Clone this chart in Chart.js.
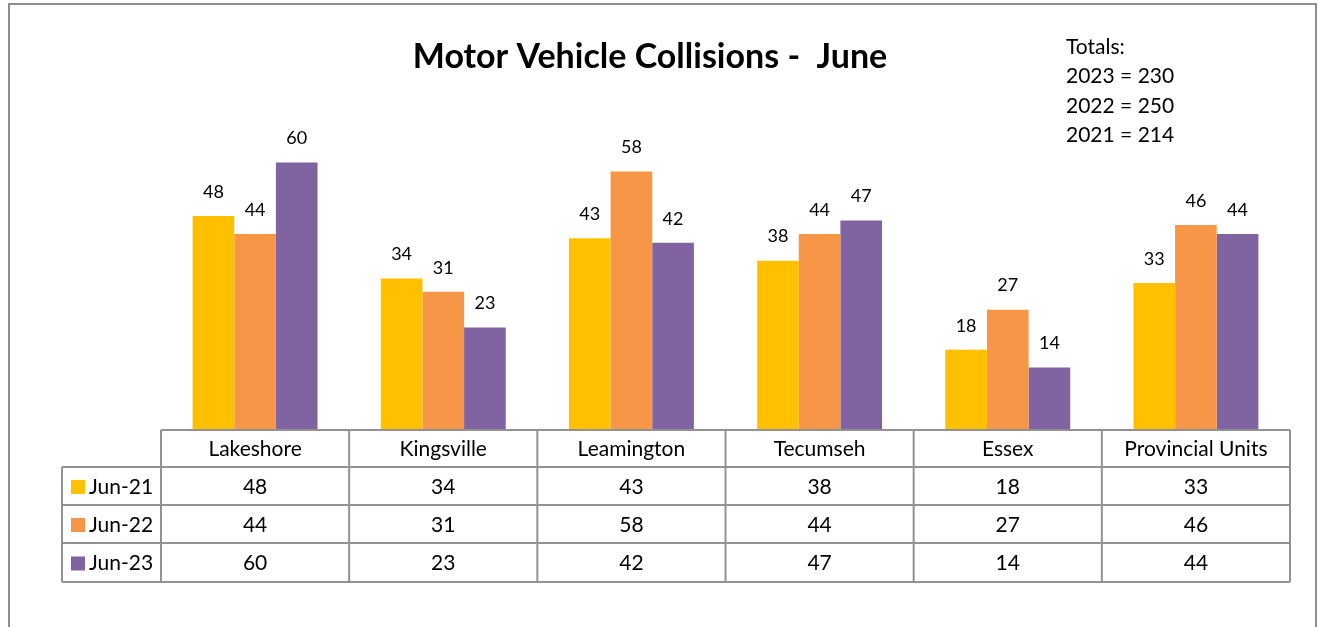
<!DOCTYPE html>
<html>
<head>
<meta charset="utf-8">
<script src="https://cdn.jsdelivr.net/npm/chart.js@4.4.0/dist/chart.umd.min.js"></script>
<style>
  html, body { margin: 0; padding: 0; background: #fff; }
  #wrap { width: 1325px; height: 627px; }
</style>
</head>
<body>
<div id="wrap"><canvas id="c" width="1325" height="627"></canvas></div>
<script>
const categories = ['Lakeshore', 'Kingsville', 'Leamington', 'Tecumseh', 'Essex', 'Provincial Units']
const seriesNames = ['Jun-21', 'Jun-22', 'Jun-23']
const jun21 = [48, 34, 43, 38, 18, 33]
const jun22 = [44, 31, 58, 44, 27, 46]
const jun23 = [60, 23, 42, 47, 14, 44]
const totalsLines = ['Totals:', '2023 = 230', '2022 = 250', '2021 = 214']
const titleText = 'Motor Vehicle Collisions -  June'

const colors = ['#FFC000', '#F79646', '#8064A2']
const FONT = 'Lato, "Open Sans", sans-serif'
const GRID = '#929292'

// frame, title, totals box
const decorPlugin = {
    id: 'decor',
    beforeDraw(chart) {
        const ctx = chart.ctx
        ctx.save()
        ctx.fillStyle = '#fff'
        ctx.fillRect(0, 0, chart.width, chart.height)
        ctx.strokeStyle = '#8f8f8f'
        ctx.lineWidth = 2
        ctx.strokeRect(9, 4, 1307, 640)

        ctx.fillStyle = '#000'
        ctx.font = 'bold 34px ' + FONT
        ctx.textAlign = 'center'
        ctx.textBaseline = 'middle'
        ctx.fillText(titleText, 650, 57)

        ctx.font = '21px ' + FONT
        ctx.textAlign = 'left'
        totalsLines.forEach((t, i) => ctx.fillText(t, 1066, 47 + i * 29.5))
        ctx.restore()
    }
}

// value labels above bars
const labelPlugin = {
    id: 'barLabels',
    afterDatasetsDraw(chart) {
        const ctx = chart.ctx
        ctx.save()
        ctx.fillStyle = '#000'
        ctx.font = '18px ' + FONT
        ctx.textAlign = 'center'
        ctx.textBaseline = 'middle'
        chart.data.datasets.forEach((ds, di) => {
            chart.getDatasetMeta(di).data.forEach((bar, i) => {
                ctx.fillText(ds.data[i], bar.x, bar.y - 24)
            })
        })
        ctx.restore()
    }
}

// data table under the plot
const tablePlugin = {
    id: 'dataTable',
    afterDraw(chart) {
        const ctx = chart.ctx
        const area = chart.chartArea
        const xs = chart.scales.x
        const n = categories.length
        const colW = (area.right - area.left) / n
        const legendLeft = 62
        const rows = [area.bottom, 467, 505, 543, 582]

        ctx.save()
        ctx.strokeStyle = GRID
        ctx.lineWidth = 2
        // header row (categories only)
        ctx.beginPath()
        ctx.moveTo(area.left, rows[0]); ctx.lineTo(area.right, rows[0])
        for (let r = 1; r < rows.length; r++) {
            ctx.moveTo(legendLeft, rows[r]); ctx.lineTo(area.right, rows[r])
        }
        for (let i = 0; i <= n; i++) {
            const x = area.left + i * colW
            ctx.moveTo(x, rows[0]); ctx.lineTo(x, rows[4])
        }
        ctx.moveTo(legendLeft, rows[1]); ctx.lineTo(legendLeft, rows[4])
        ctx.stroke()

        ctx.fillStyle = '#000'
        ctx.font = '21px ' + FONT
        ctx.textAlign = 'center'
        ctx.textBaseline = 'middle'
        categories.forEach((c, i) => {
            ctx.fillText(c, xs.getPixelForValue(i), (rows[0] + rows[1]) / 2 + 1)
        })
        chart.data.datasets.forEach((ds, di) => {
            const yMid = (rows[di + 1] + rows[di + 2]) / 2 + 1
            ds.data.forEach((v, i) => {
                ctx.textAlign = 'center'
                ctx.fillText(v, xs.getPixelForValue(i), yMid)
            })
            ctx.fillStyle = ds.backgroundColor
            ctx.fillRect(71, yMid - 7, 14, 14)
            ctx.fillStyle = '#000'
            ctx.textAlign = 'left'
            ctx.fillText(ds.label, 89, yMid)
        })
        ctx.restore()
    }
}

new Chart(document.getElementById('c').getContext('2d'), {
    type: 'bar',
    data: {
        labels: categories,
        datasets: [
            { label: seriesNames[0], data: jun21, backgroundColor: colors[0] },
            { label: seriesNames[1], data: jun22, backgroundColor: colors[1] },
            { label: seriesNames[2], data: jun23, backgroundColor: colors[2] }
        ]
    },
    options: {
        responsive: false,
        animation: false,
        layout: { padding: { left: 161, right: 35, top: 118, bottom: 197 } },
        plugins: {
            legend: { display: false },
            title: { display: false },
            tooltip: { enabled: false }
        },
        datasets: { bar: { categoryPercentage: 0.664, barPercentage: 1, borderWidth: 0 } },
        scales: {
            x: { display: false },
            y: { display: false, min: 0, max: 70 }
        }
    },
    plugins: [decorPlugin, labelPlugin, tablePlugin]
})
</script>
</body>
</html>
